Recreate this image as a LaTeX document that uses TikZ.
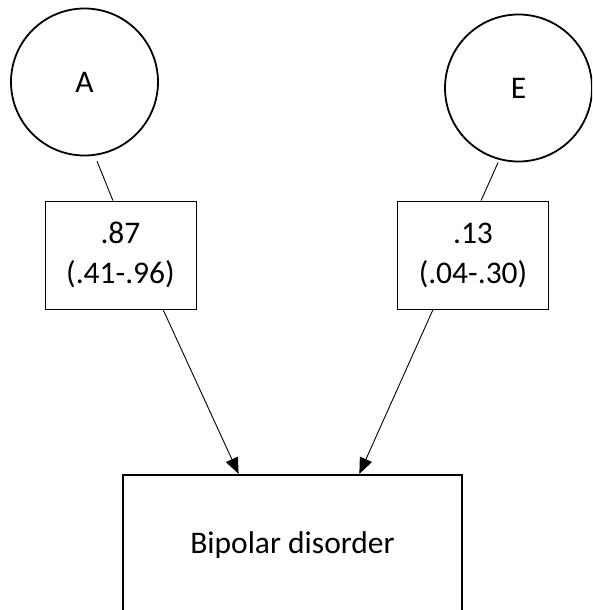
\documentclass[tikz,border=0pt]{standalone}
\usepackage{fontspec}
\setmainfont{Carlito}
\usetikzlibrary{arrows.meta,calc}
\tikzset{
  latent/.style={circle,draw,line width=1.8pt,minimum size=147pt,inner sep=0pt,
    font=\fontsize{31.5}{40}\selectfont},
  parbox/.style={rectangle,draw,line width=0.9pt,minimum width=151pt,minimum height=108pt,
    inner sep=0pt,align=center,font=\fontsize{31.5}{40}\selectfont},
  outbox/.style={rectangle,draw,line width=2.2pt,minimum width=339pt,minimum height=140pt,
    inner sep=0pt,font=\fontsize{31.5}{40}\selectfont},
  link/.style={line width=0.9pt},
  path/.style={line width=0.9pt,-{Triangle[length=16pt,width=13pt]}}
}
\begin{document}
\begin{tikzpicture}[x=1pt,y=-1pt]
\clip (0,0) rectangle (592,610);
\fill[white] (0,0) rectangle (592,610);
\node[latent] (A) at (84.5,82) {\raisebox{-3pt}{A}};
\node[latent] (E) at (518.5,88) {\raisebox{-2pt}{E}};
\node[parbox] (bA) at (120.5,255) {.87\\(.41-.96)};
\node[parbox] (bE) at (473,255) {.13\\(.04-.30)};
\node[outbox] (bd) at (292.5,545) {Bipolar disorder};
\draw[link,shorten <=6pt] (A.-82.5) -- ($(bA.north west)!0.45!(bA.north east)$);
\draw[link,shorten <=3pt] (E.-105) -- ($(bE.north west)!0.553!(bE.north east)$);
\draw[path] ($(bA.south west)!0.78!(bA.south east)$) -- ($(bd.north west)!0.342!(bd.north east)$);
\draw[path] ($(bE.south west)!0.237!(bE.south east)$) -- ($(bd.north west)!0.696!(bd.north east)$);
\end{tikzpicture}
\end{document}
